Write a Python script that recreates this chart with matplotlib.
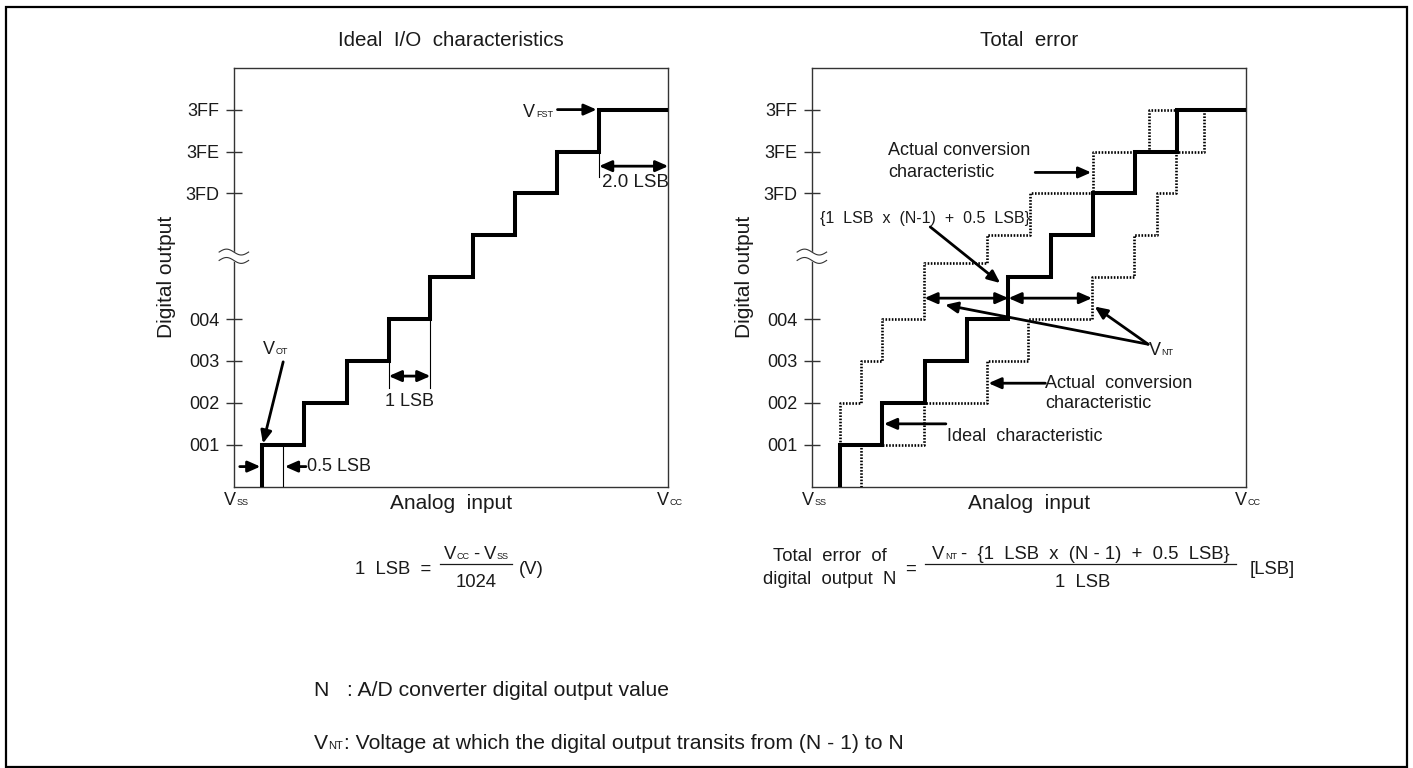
import matplotlib
matplotlib.use("Agg")
import matplotlib.pyplot as plt
import numpy as np
from matplotlib.transforms import IdentityTransform
from matplotlib.lines import Line2D
from matplotlib.patches import Rectangle

plt.rcParams['font.family'] = ['Liberation Sans', 'DejaVu Sans']

# digital output codes on the y axis (break between 004 and 3FD)
codes = ['001', '002', '003', '004', '3FD', '3FE', '3FF']
code_pos = [1, 2, 3, 4, 7, 8, 9]

# x in LSB from Vss, transition points of each staircase
x_end = 10.3
ideal_x = [0.665, 1.665, 2.665, 3.665, 4.655, 5.665, 6.655, 7.66, 8.655]
ideal_lvl = [1, 2, 3, 4, 5, 6, 7, 8, 9]
upper_x = [0.66, 1.16, 1.65, 2.66, 4.15, 5.16, 6.67, 8.0]
upper_lvl = [2, 3, 4, 5.33, 6, 7, 8, 9]
lower_x = [1.16, 2.66, 4.14, 5.13, 6.64, 7.63, 8.18, 8.63, 9.3]
lower_lvl = [1, 2, 3, 4, 5, 6, 7, 8, 9]

W, H = 1413, 768
fig = plt.figure(figsize=(W / 100, H / 100), dpi=100)
r = fig.canvas.get_renderer()
ID = IdentityTransform()
INK = '#1a1a1a'


def rich(x, y, parts, ha='left'):
    # x, y in display pixels, y is the baseline
    items = []
    for s, size, gap in parts:
        t = fig.text(0, 0, s, fontsize=size, va='baseline', ha='left',
                     transform=ID, color=INK)
        items.append((t, t.get_window_extent(r).width, gap))
    total = sum(w + g for _, w, g in items)
    if ha == 'center':
        x -= total / 2
    elif ha == 'right':
        x -= total
    for t, w, g in items:
        x += g
        t.set_position((x, y))
        x += w


def px(x, ytop):
    return x, H - ytop


def data_px(ax, x, y):
    return ax.transData.transform((x, y))


def stair(ax, xs, lvls, start, **kw):
    x = [xs[0]] + list(xs) + [x_end]
    y = [start] + list(lvls) + [lvls[-1]]
    ax.step(x, y, where='post', **kw)


def arrow(ax, tail, head, double=False, lw=2.0):
    style = '<|-|>' if double else '-|>'
    ax.annotate('', xy=head, xytext=tail, annotation_clip=False,
                arrowprops=dict(arrowstyle=style + ',head_length=0.75,head_width=0.33',
                                lw=lw, color='black', shrinkA=0, shrinkB=0,
                                mutation_scale=10))


def setup(ax, title):
    ax.set_xlim(0, x_end)
    ax.set_ylim(0, 10)
    for s in ax.spines.values():
        s.set_linewidth(1.0)
        s.set_color('#333333')
    ax.set_xticks([])
    ax.set_yticks(code_pos)
    ax.set_yticklabels(codes)
    ax.tick_params(axis='y', direction='inout', length=11, width=1.0,
                   pad=5.5, labelsize=13, colors='#333333', labelcolor=INK)
    # axis break symbol
    t = np.linspace(0, 1, 60)
    xb = -0.36 + 0.70 * t
    yb = 5.50 + 0.07 * np.sin(2 * np.pi * t)
    ax.fill_between(xb, yb - 0.1, yb + 0.1, color='white', zorder=5, clip_on=False)
    ax.plot(xb, yb - 0.1, color='#333333', lw=0.8, zorder=6, clip_on=False)
    ax.plot(xb, yb + 0.1, color='#333333', lw=0.8, zorder=6, clip_on=False)
    ax.text(5.15, 10.64, title, ha='center', va='center', fontsize=14.8, color=INK)
    ax.text(-1.62, 5, 'Digital output', rotation=90, ha='center', va='center',
            fontsize=15, color=INK)
    ax.text(5.15, -0.40, 'Analog  input', ha='center', va='center', fontsize=15,
            color=INK)
    stair(ax, ideal_x, ideal_lvl, 0, color='black', lw=2.9, zorder=4,
          solid_joinstyle='miter')


ax1 = fig.add_axes([234.3 / W, 1 - 486.7 / H, 434 / W, 419 / H])
ax2 = fig.add_axes([812.3 / W, 1 - 486.7 / H, 434 / W, 419 / H])
setup(ax1, 'Ideal  I/O  characteristics')
setup(ax2, 'Total  error')

for ax in (ax1, ax2):
    rich(*data_px(ax, -0.25, -0.44), [('V', 13, 0), ('SS', 6.5, 0.5)])
    rich(*data_px(ax, 10.03, -0.44), [('V', 13, 0), ('CC', 6.5, 0.5)])

# ---- left: ideal characteristics ----
thin = dict(color='black', lw=0.8, zorder=3)
ax1.plot([1.16, 1.16], [0, 1], **thin)
ax1.plot([3.665, 3.665], [2.35, 3], **thin)
ax1.plot([4.655, 4.655], [2.35, 4], **thin)
ax1.plot([8.655, 8.655], [7.38, 8], **thin)
arrow(ax1, (0.13, 0.48), (0.62, 0.48))
arrow(ax1, (1.70, 0.48), (1.20, 0.48))
ax1.text(1.72, 0.48, '0.5 LSB', ha='left', va='center', fontsize=13, color=INK)
arrow(ax1, (3.665, 2.64), (4.655, 2.64), double=True)
ax1.text(4.16, 2.03, '1 LSB', ha='center', va='center', fontsize=13, color=INK)
arrow(ax1, (8.655, 7.65), (x_end, 7.65), double=True)
ax1.text(8.72, 7.26, '2.0 LSB', ha='left', va='center', fontsize=13.5, color=INK)
arrow(ax1, (7.67, 9), (8.60, 9))
rich(*data_px(ax1, 6.86, 8.83), [('V', 13, 0), ('FST', 6.5, 0.5)])
arrow(ax1, (1.16, 2.98), (0.68, 1.03))
rich(*data_px(ax1, 0.69, 3.16), [('V', 13, 0), ('OT', 6.5, 0.5)])

# ---- right: total error ----
dot = dict(color='black', lw=1.9, linestyle=(0, (0.6, 0.6)), zorder=3)
stair(ax2, upper_x, upper_lvl, 1, **dot)
stair(ax2, lower_x, lower_lvl, 0, **dot)
arrow(ax2, (2.66, 4.5), (4.655, 4.5), double=True)
arrow(ax2, (4.655, 4.5), (6.64, 4.5), double=True)
ax2.text(0.18, 6.4, '{1  LSB  x  (N-1)  +  0.5  LSB}', ha='left', va='center',
         fontsize=11.5, color=INK)
arrow(ax2, (2.80, 6.2), (4.46, 4.86))
ax2.text(1.80, 8.02, 'Actual conversion', ha='left', va='center', fontsize=13, color=INK)
ax2.text(1.80, 7.50, 'characteristic', ha='left', va='center', fontsize=13, color=INK)
arrow(ax2, (5.29, 7.5), (6.62, 7.5))
arrow(ax2, (7.97, 3.40), (3.15, 4.34))
arrow(ax2, (7.97, 3.40), (6.70, 4.30))
rich(*data_px(ax2, 7.98, 3.14), [('V', 13, 0), ('NT', 6.5, 0.5)])
ax2.text(5.53, 2.47, 'Actual  conversion', ha='left', va='center', fontsize=13, color=INK)
ax2.text(5.53, 1.99, 'characteristic', ha='left', va='center', fontsize=13, color=INK)
arrow(ax2, (5.53, 2.47), (4.18, 2.47))
ax2.text(3.19, 1.19, 'Ideal  characteristic', ha='left', va='center', fontsize=13, color=INK)
arrow(ax2, (3.17, 1.5), (1.70, 1.5))

# ---- formulas ----
fs = 13.3
rich(*px(431, 574), [('1  LSB  =', fs, 0)], ha='right')
rich(*px(476, 559), [('V', fs, 0), ('CC', 6.5, 0.5), ('-', fs, 4), ('V', fs, 4),
                     ('SS', 6.5, 0.5)], ha='center')
fig.add_artist(Line2D([440, 512], [H - 563.5, H - 563.5], transform=ID, color=INK, lw=0.9))
rich(*px(476, 587), [('1024', fs, 0)], ha='center')
rich(*px(519, 574), [('(V)', fs, 0)])

rich(*px(830, 561), [('Total  error  of', fs, 0)], ha='center')
rich(*px(830, 584), [('digital  output  N', fs, 0)], ha='center')
rich(*px(910, 574), [('=', fs, 0)], ha='center')
rich(*px(1081, 559), [('V', fs, 0), ('NT', 6.5, 0.5),
                      ('-  {1  LSB  x  (N - 1)  +  0.5  LSB}', fs, 4)], ha='center')
fig.add_artist(Line2D([925, 1236], [H - 563.5, H - 563.5], transform=ID, color=INK, lw=0.9))
rich(*px(1083, 587), [('1  LSB', fs, 0)], ha='center')
rich(*px(1250, 574), [('[LSB]', fs, 0)])

# ---- notes ----
rich(*px(314, 696), [('N   : A/D converter digital output value', 15.2, 0)])
rich(*px(314, 749), [('V', 15.2, 0), ('NT', 8, 0.3),
                     (': Voltage at which the digital output transits from (N - 1) to N', 15.2, 0.5)])

fig.add_artist(Rectangle((6, 1), 1401, 760, transform=ID, fill=False,
                         lw=1.6, edgecolor='black'))

fig.savefig('out.png', dpi=100)
